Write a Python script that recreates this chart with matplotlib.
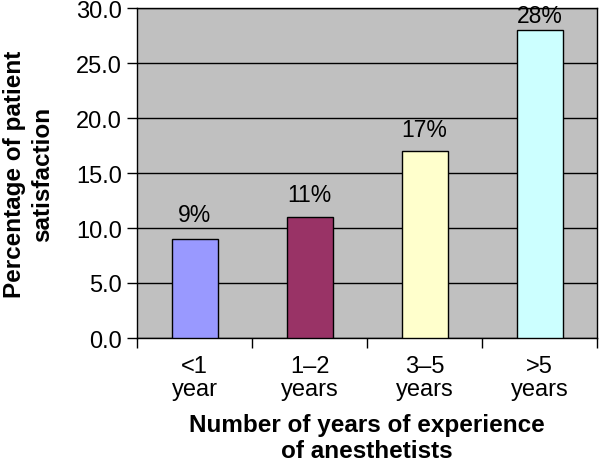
import matplotlib.pyplot as plt

# data
categories = ["<1\nyear", "1\u20132\nyears", "3\u20135\nyears", ">5\nyears"]
satisfaction = [9, 11, 17, 28]
bar_labels = ["9%", "11%", "17%", "28%"]
bar_colors = ["#9999FF", "#993366", "#FFFFCC", "#CCFFFF"]
y_ticks = [0, 5, 10, 15, 20, 25, 30]

plt.rcParams['font.family'] = ['Liberation Sans', 'DejaVu Sans']

fig = plt.figure(figsize=(6, 4.64), dpi=100)
ax = fig.add_axes([137 / 600, 1 - 339 / 464, 460 / 600, 330 / 464])
ax.set_facecolor("#C0C0C0")

x = range(len(categories))
bars = ax.bar(x, satisfaction, width=0.4, color=bar_colors, edgecolor="black",
              linewidth=1, zorder=3)

# percentage labels above each bar (the tallest one is squeezed under the top edge)
label_offsets = [9, 8, 7, 2]
for b, lab, off in zip(bars, bar_labels, label_offsets):
    ax.annotate(lab, (b.get_x() + b.get_width() / 2, b.get_height()),
                xytext=(0, off), textcoords="offset points",
                ha="center", va="bottom", fontsize=16.5)

ax.set_xlim(-0.5, len(categories) - 0.5)
ax.set_ylim(0, 30)
ax.set_yticks(y_ticks)
ax.set_yticklabels([f"{v:.1f}" for v in y_ticks], fontsize=17)
ax.yaxis.grid(True, color="black", linewidth=1, zorder=0)
ax.set_axisbelow(True)

# category labels between boundary ticks
ax.set_xticks([i - 0.5 for i in range(len(categories) + 1)])
ax.set_xticklabels([])
ax.set_xticks(list(x), minor=True)
ax.set_xticklabels(categories, minor=True, fontsize=17, linespacing=1.1)
ax.tick_params(axis="x", which="minor", length=0, pad=12)
ax.tick_params(axis="x", which="major", length=7, width=1)
ax.tick_params(axis="y", length=7, width=1, pad=4)

for s in ax.spines.values():
    s.set_color("black")
    s.set_linewidth(1)

ax.set_ylabel("Percentage of patient\nsatisfaction", fontsize=17.5,
              fontweight="bold", labelpad=16, linespacing=1.25)
ax.set_xlabel("Number of years of experience\nof anesthetists", fontsize=17.5,
              fontweight="bold", labelpad=9, linespacing=1.15)

plt.savefig("out.png", dpi=100)
